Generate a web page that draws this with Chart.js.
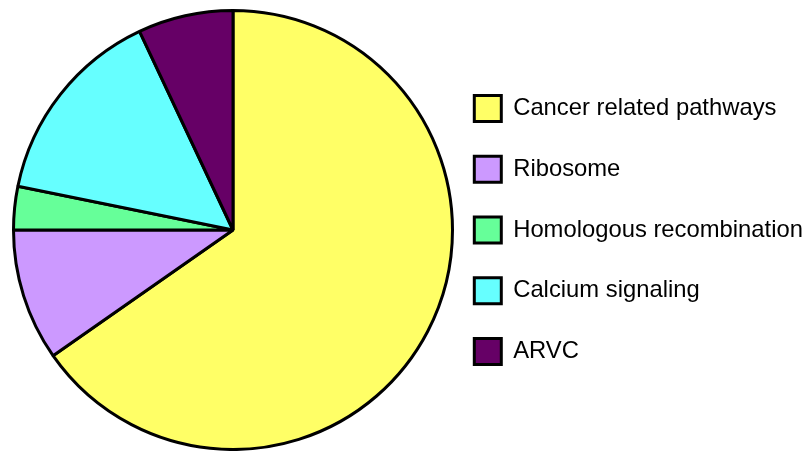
<!DOCTYPE html>
<html>
<head>
<meta charset="utf-8">
<script src="https://cdn.jsdelivr.net/npm/chart.js@4.4.1/dist/chart.umd.min.js"></script>
<style>
  html, body { margin: 0; padding: 0; background: #ffffff; }
  #wrap { width: 809px; height: 451px; }
</style>
</head>
<body>
<div id="wrap"><canvas id="c" width="809" height="451"></canvas></div>
<script>
const categories = ['Cancer related pathways', 'Ribosome', 'Homologous recombination', 'Calcium signaling', 'ARVC'];
const values = [65.3, 9.7, 3.2, 14.8, 7.0];
const colors = ['#FFFF66', '#CC99FF', '#66FF99', '#66FFFF', '#660066'];

new Chart(document.getElementById('c'), {
  type: 'pie',
  data: {
    labels: categories,
    datasets: [{
      data: values,
      backgroundColor: colors,
      borderColor: '#000000',
      borderWidth: 3,
      hoverOffset: 0
    }]
  },
  options: {
    responsive: false,
    animation: false,
    devicePixelRatio: 1,
    radius: 219.5,
    layout: { padding: { left: 26.4, right: 0, top: 9, bottom: 0 } },
    plugins: {
      tooltip: { enabled: false },
      legend: {
        position: 'right',
        align: 'center',
        maxWidth: 369.4,
        labels: {
          boxWidth: 27,
          boxHeight: 26,
          padding: 34.7,
          color: '#000000',
          font: { family: "'Liberation Sans', Arial, sans-serif", size: 23.8 }
        }
      }
    }
  }
});
</script>
</body>
</html>
